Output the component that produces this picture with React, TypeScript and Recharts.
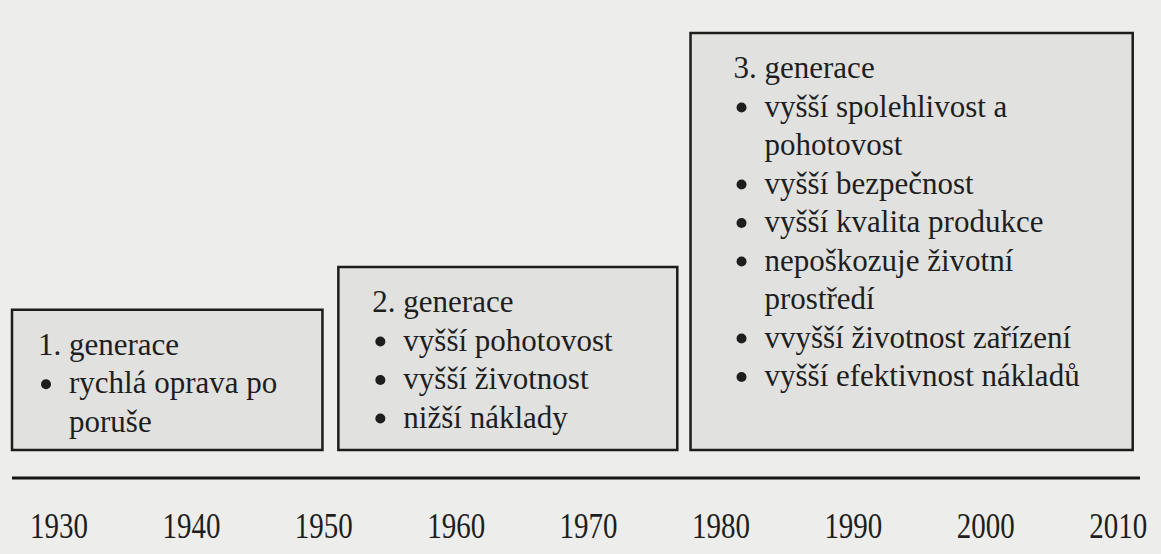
import { ComposedChart, XAxis, YAxis, ReferenceArea } from "recharts";

// timeline (years) and box extents
const yearTicks = [1930, 1940, 1950, 1960, 1970, 1980, 1990, 2000, 2010];
const boxStart = [1926.45, 1951.1, 1977.7];
const boxEnd = [1949.9, 1976.7, 2011.1];
const boxBottom = [6.3, 6.3, 6.3];
const boxTop = [37.8, 47.4, 100];

const titles = ["1. generace", "2. generace", "3. generace"];
const items: string[][][] = [
  [["rychlá oprava po", "poruše"]],
  [["vyšší pohotovost"], ["vyšší životnost"], ["nižší náklady"]],
  [
    ["vyšší spolehlivost a", "pohotovost"],
    ["vyšší bezpečnost"],
    ["vyšší kvalita produkce"],
    ["nepoškozuje životní", "prostředí"],
    ["vvyšší životnost zařízení"],
    ["vyšší efektivnost nákladů"],
  ],
];

const insets = [26, 34, 43];
const serif = { fontFamily: "Liberation Serif, serif" };
const INK = "#1e1e1e";
const LINE_H = 38.5;

function BoxText({ viewBox, idx }: { viewBox?: { x: number; y: number }; idx: number }) {
  if (!viewBox) return null;
  const left = viewBox.x + insets[idx];
  let baseline = viewBox.y + 45;
  const out: any[] = [
    <text key="t" x={left} y={baseline} style={serif} fontSize={31} fill={INK}>
      {titles[idx]}
    </text>,
  ];
  items[idx].forEach((item, i) => {
    item.forEach((ln, j) => {
      baseline += LINE_H;
      if (j === 0) {
        out.push(<circle key={`b${i}`} cx={left + 8} cy={baseline - 9} r={5} fill={INK} />);
      }
      out.push(
        <text key={`l${i}-${j}`} x={left + 31} y={baseline} style={serif} fontSize={31} fill={INK}>
          {ln}
        </text>
      );
    });
  });
  return <g>{out}</g>;
}

// the photographed digits are a bit taller than plain Times, hence the scaleY
function YearTick({ x, y, payload }: any) {
  return (
    <text
      transform={`translate(${x},${y + 52}) scale(1,1.2)`}
      textAnchor="middle"
      style={serif}
      fontSize={29}
      fill={INK}
    >
      {payload.value}
    </text>
  );
}

export default function App() {
  return (
    <div style={{ position: "absolute", left: 0, top: 0, width: 1161, height: 554, background: "#ededeb" }}>
      <ComposedChart width={1161} height={554} data={[]} margin={{ top: 33, right: 21, left: 12, bottom: 0 }}>
        <XAxis
          type="number"
          dataKey="year"
          domain={[1926.45, 2011.65]}
          ticks={yearTicks}
          allowDataOverflow
          tickLine={false}
          axisLine={{ stroke: "#161616", strokeWidth: 3 }}
          tick={<YearTick />}
          height={76}
        />
        <YAxis type="number" domain={[0, 100]} hide allowDataOverflow />
        {titles.map((t, i) => (
          <ReferenceArea
            key={t}
            x1={boxStart[i]}
            x2={boxEnd[i]}
            y1={boxBottom[i]}
            y2={boxTop[i]}
            fill="#e1e1df"
            fillOpacity={1}
            stroke="#1c1c1c"
            strokeWidth={2.5}
            ifOverflow="visible"
            label={<BoxText idx={i} />}
          />
        ))}
      </ComposedChart>
    </div>
  );
}
